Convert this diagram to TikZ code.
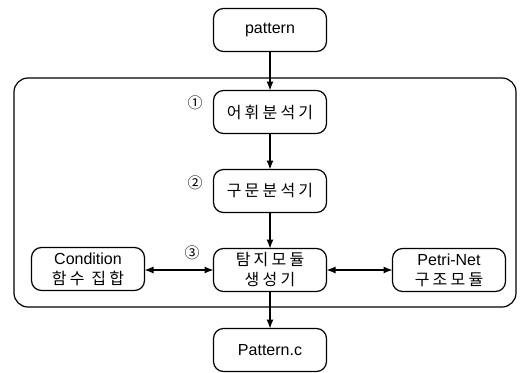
\documentclass[tikz,border=0pt]{standalone}
\usepackage{fontspec}
\setmainfont{Liberation Sans}
\newfontfamily\kr[LetterSpace=20]{Noto Sans CJK KR}
\newfontfamily\krnum{Noto Sans CJK KR}
\usetikzlibrary{arrows.meta}

\begin{document}
\begin{tikzpicture}[x=1pt, y=-1pt, line width=1.2pt,
  every node/.style={outer sep=0pt},
  modbox/.style={draw, rounded corners=10pt, minimum width=113pt, minimum height=43pt,
    inner sep=2pt, align=center, font=\fontsize{16}{20}\selectfont},
  numlbl/.style={font=\krnum\fontsize{15}{15}\selectfont},
  flow/.style={-{Latex[length=9pt,width=7pt]}},
  both/.style={{Latex[length=9pt,width=7pt]}-{Latex[length=9pt,width=7pt]}}]
\useasboundingbox (0,0) rectangle (529,372);

% outer frame
\draw[rounded corners=14pt] (14,78) rectangle (516,307);

\node[modbox] (pattern) at (270,30) {pattern};
\node[modbox] (lexer) at (270,112) {\kr 어휘분석기};
\node[modbox] (parser) at (270,191) {\kr 구문분석기};
\node[modbox] (gen) at (270,270) {\kr 탐지모듈\\\kr 생성기};
\node[modbox] (cond) at (88,269) {Condition\\\kr 함수 집합};
\node[modbox] (petri) at (449,270) {Petri-Net\\\kr 구조모듈};
\node[modbox] (out) at (270,350) {Pattern.c};

\node[numlbl] (n1) at (195,103) {①};
\node[numlbl] (n2) at (195,183) {②};
\node[numlbl] (n3) at (192,253) {③};

\draw[flow] (pattern) -- (lexer);
\draw[flow] (lexer) -- (parser);
\draw[flow] (parser) -- (gen);
\draw[flow] (gen) -- (out);
\draw[both] (cond.east |- gen) -- (gen.west);
\draw[both] (gen.east) -- (petri.west);
\end{tikzpicture}
\end{document}
